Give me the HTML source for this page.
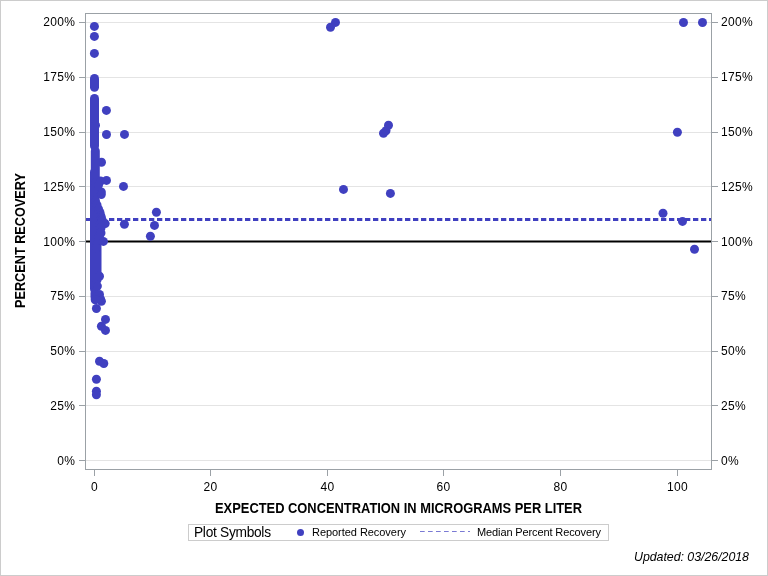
<!DOCTYPE html>
<html><head><meta charset="utf-8"><style>
html,body{margin:0;padding:0;background:#fff;}
svg{display:block;}
text{font-family:"Liberation Sans",sans-serif;fill:#000;}
svg{will-change:transform;}
.t{font-size:12px;}
.ls{letter-spacing:0.33px;}
.lb{font-size:14px;font-weight:bold;}
.lg1{font-size:13.75px;}
.lg2{font-size:11px;}
.ft{font-size:12.4px;font-style:italic;}
</style></head><body>
<svg width="768" height="576" viewBox="0 0 768 576">
<rect x="0.5" y="0.5" width="767" height="575" fill="#fff" stroke="#cccccc"/>
<line x1="86" x2="711" y1="22.5" y2="22.5" stroke="#e4e4e4"/>
<line x1="86" x2="711" y1="77.5" y2="77.5" stroke="#e4e4e4"/>
<line x1="86" x2="711" y1="132.5" y2="132.5" stroke="#e4e4e4"/>
<line x1="86" x2="711" y1="186.5" y2="186.5" stroke="#e4e4e4"/>
<line x1="86" x2="711" y1="296.5" y2="296.5" stroke="#e4e4e4"/>
<line x1="86" x2="711" y1="351.5" y2="351.5" stroke="#e4e4e4"/>
<line x1="86" x2="711" y1="405.5" y2="405.5" stroke="#e4e4e4"/>
<line x1="86" x2="711" y1="460.5" y2="460.5" stroke="#e4e4e4"/>
<rect x="86" y="240.5" width="625" height="2" fill="#000"/>
<line x1="86" x2="711" y1="219.5" y2="219.5" stroke="#4040c0" stroke-width="3" stroke-dasharray="5.3 2.7" stroke-dashoffset="1"/>
<line x1="94.5" x2="94.5" y1="78.4" y2="87.3" stroke="#4040c0" stroke-width="9" stroke-linecap="round"/>
<line x1="94.5" x2="94.5" y1="98.5" y2="146" stroke="#4040c0" stroke-width="9" stroke-linecap="round"/>
<line x1="95.3" x2="95.3" y1="151" y2="177" stroke="#4040c0" stroke-width="9" stroke-linecap="round"/>
<line x1="94.5" x2="94.5" y1="172" y2="289" stroke="#4040c0" stroke-width="9" stroke-linecap="round"/>
<line x1="95.0" x2="95.0" y1="293" y2="297" stroke="#4040c0" stroke-width="9" stroke-linecap="round"/>
<line x1="97" x2="97" y1="245" y2="280" stroke="#4040c0" stroke-width="9" stroke-linecap="round"/>
<circle cx="94.4" cy="26.4" r="4.5" fill="#4040c0"/>
<circle cx="94.4" cy="36.4" r="4.5" fill="#4040c0"/>
<circle cx="94.4" cy="53.4" r="4.5" fill="#4040c0"/>
<circle cx="106.4" cy="110.4" r="4.5" fill="#4040c0"/>
<circle cx="106.5" cy="134.5" r="4.5" fill="#4040c0"/>
<circle cx="101.5" cy="162.3" r="4.5" fill="#4040c0"/>
<circle cx="106.5" cy="180.4" r="4.5" fill="#4040c0"/>
<circle cx="101.3" cy="192" r="4.5" fill="#4040c0"/>
<circle cx="101.3" cy="194.5" r="4.5" fill="#4040c0"/>
<circle cx="96" cy="183" r="4.5" fill="#4040c0"/>
<circle cx="100.5" cy="181" r="4.5" fill="#4040c0"/>
<circle cx="98.5" cy="185" r="4.5" fill="#4040c0"/>
<circle cx="95.5" cy="201" r="4.5" fill="#4040c0"/>
<circle cx="97" cy="205" r="4.5" fill="#4040c0"/>
<circle cx="98.5" cy="209" r="4.5" fill="#4040c0"/>
<circle cx="100" cy="212.5" r="4.5" fill="#4040c0"/>
<circle cx="100.8" cy="215.6" r="4.5" fill="#4040c0"/>
<circle cx="101.5" cy="218" r="4.5" fill="#4040c0"/>
<circle cx="102" cy="221" r="4.5" fill="#4040c0"/>
<circle cx="105.2" cy="223.6" r="4.5" fill="#4040c0"/>
<circle cx="100" cy="225" r="4.5" fill="#4040c0"/>
<circle cx="101" cy="228" r="4.5" fill="#4040c0"/>
<circle cx="99" cy="237" r="4.5" fill="#4040c0"/>
<circle cx="101" cy="233" r="4.5" fill="#4040c0"/>
<circle cx="103.4" cy="241.4" r="4.5" fill="#4040c0"/>
<circle cx="96.3" cy="248" r="4.5" fill="#4040c0"/>
<circle cx="95.5" cy="125.2" r="4.5" fill="#4040c0"/>
<circle cx="99.5" cy="276.3" r="4.5" fill="#4040c0"/>
<circle cx="97.4" cy="286.1" r="4.5" fill="#4040c0"/>
<circle cx="99.5" cy="294.5" r="4.5" fill="#4040c0"/>
<circle cx="100.5" cy="299" r="4.5" fill="#4040c0"/>
<circle cx="101.4" cy="301.25" r="4.5" fill="#4040c0"/>
<circle cx="95.2" cy="299.8" r="4.5" fill="#4040c0"/>
<circle cx="96.4" cy="308.5" r="4.5" fill="#4040c0"/>
<circle cx="105.5" cy="319.4" r="4.5" fill="#4040c0"/>
<circle cx="101.4" cy="326.2" r="4.5" fill="#4040c0"/>
<circle cx="105.5" cy="330.4" r="4.5" fill="#4040c0"/>
<circle cx="99.5" cy="361.3" r="4.5" fill="#4040c0"/>
<circle cx="103.8" cy="363.5" r="4.5" fill="#4040c0"/>
<circle cx="96.4" cy="379.3" r="4.5" fill="#4040c0"/>
<circle cx="96.4" cy="391.2" r="4.5" fill="#4040c0"/>
<circle cx="96.4" cy="394.7" r="4.5" fill="#4040c0"/>
<circle cx="124.5" cy="134.4" r="4.5" fill="#4040c0"/>
<circle cx="123.5" cy="186.4" r="4.5" fill="#4040c0"/>
<circle cx="124.4" cy="224.3" r="4.5" fill="#4040c0"/>
<circle cx="156.4" cy="212.3" r="4.5" fill="#4040c0"/>
<circle cx="154.5" cy="225.4" r="4.5" fill="#4040c0"/>
<circle cx="150.4" cy="236.3" r="4.5" fill="#4040c0"/>
<circle cx="335.5" cy="22.4" r="4.5" fill="#4040c0"/>
<circle cx="330.5" cy="27.3" r="4.5" fill="#4040c0"/>
<circle cx="383.5" cy="133.3" r="4.5" fill="#4040c0"/>
<circle cx="386" cy="130.8" r="4.5" fill="#4040c0"/>
<circle cx="388.5" cy="125.2" r="4.5" fill="#4040c0"/>
<circle cx="343.5" cy="189.4" r="4.5" fill="#4040c0"/>
<circle cx="390.4" cy="193.4" r="4.5" fill="#4040c0"/>
<circle cx="683.5" cy="22.5" r="4.5" fill="#4040c0"/>
<circle cx="702.5" cy="22.5" r="4.5" fill="#4040c0"/>
<circle cx="677.4" cy="132.3" r="4.5" fill="#4040c0"/>
<circle cx="663" cy="213.3" r="4.5" fill="#4040c0"/>
<circle cx="682.5" cy="221.4" r="4.5" fill="#4040c0"/>
<circle cx="694.5" cy="249.3" r="4.5" fill="#4040c0"/>
<rect x="85.5" y="13.5" width="626" height="456" fill="none" stroke="#9ba1a6"/>
<line x1="79" x2="85" y1="22.5" y2="22.5" stroke="#9ba1a6"/>
<line x1="712" x2="718" y1="22.5" y2="22.5" stroke="#9ba1a6"/>
<line x1="79" x2="85" y1="77.5" y2="77.5" stroke="#9ba1a6"/>
<line x1="712" x2="718" y1="77.5" y2="77.5" stroke="#9ba1a6"/>
<line x1="79" x2="85" y1="132.5" y2="132.5" stroke="#9ba1a6"/>
<line x1="712" x2="718" y1="132.5" y2="132.5" stroke="#9ba1a6"/>
<line x1="79" x2="85" y1="186.5" y2="186.5" stroke="#9ba1a6"/>
<line x1="712" x2="718" y1="186.5" y2="186.5" stroke="#9ba1a6"/>
<line x1="79" x2="85" y1="241.5" y2="241.5" stroke="#9ba1a6"/>
<line x1="712" x2="718" y1="241.5" y2="241.5" stroke="#9ba1a6"/>
<line x1="79" x2="85" y1="296.5" y2="296.5" stroke="#9ba1a6"/>
<line x1="712" x2="718" y1="296.5" y2="296.5" stroke="#9ba1a6"/>
<line x1="79" x2="85" y1="351.5" y2="351.5" stroke="#9ba1a6"/>
<line x1="712" x2="718" y1="351.5" y2="351.5" stroke="#9ba1a6"/>
<line x1="79" x2="85" y1="405.5" y2="405.5" stroke="#9ba1a6"/>
<line x1="712" x2="718" y1="405.5" y2="405.5" stroke="#9ba1a6"/>
<line x1="79" x2="85" y1="460.5" y2="460.5" stroke="#9ba1a6"/>
<line x1="712" x2="718" y1="460.5" y2="460.5" stroke="#9ba1a6"/>
<line x1="94.5" x2="94.5" y1="470" y2="476" stroke="#9ba1a6"/>
<line x1="210.5" x2="210.5" y1="470" y2="476" stroke="#9ba1a6"/>
<line x1="327.5" x2="327.5" y1="470" y2="476" stroke="#9ba1a6"/>
<line x1="443.5" x2="443.5" y1="470" y2="476" stroke="#9ba1a6"/>
<line x1="560.5" x2="560.5" y1="470" y2="476" stroke="#9ba1a6"/>
<line x1="677.5" x2="677.5" y1="470" y2="476" stroke="#9ba1a6"/>
<text x="75.3" y="25.5" text-anchor="end" class="t ls">200%</text>
<text x="721" y="25.5" class="t ls">200%</text>
<text x="75.3" y="80.5" text-anchor="end" class="t ls">175%</text>
<text x="721" y="80.5" class="t ls">175%</text>
<text x="75.3" y="135.5" text-anchor="end" class="t ls">150%</text>
<text x="721" y="135.5" class="t ls">150%</text>
<text x="75.3" y="190.5" text-anchor="end" class="t ls">125%</text>
<text x="721" y="190.5" class="t ls">125%</text>
<text x="75.3" y="245.5" text-anchor="end" class="t ls">100%</text>
<text x="721" y="245.5" class="t ls">100%</text>
<text x="75.3" y="299.5" text-anchor="end" class="t ls">75%</text>
<text x="721" y="299.5" class="t ls">75%</text>
<text x="75.3" y="354.5" text-anchor="end" class="t ls">50%</text>
<text x="721" y="354.5" class="t ls">50%</text>
<text x="75.3" y="409.5" text-anchor="end" class="t ls">25%</text>
<text x="721" y="409.5" class="t ls">25%</text>
<text x="75.3" y="464.5" text-anchor="end" class="t ls">0%</text>
<text x="721" y="464.5" class="t ls">0%</text>
<text x="94.4" y="491" text-anchor="middle" class="t ls">0</text>
<text x="210.4" y="491" text-anchor="middle" class="t ls">20</text>
<text x="327.4" y="491" text-anchor="middle" class="t ls">40</text>
<text x="443.4" y="491" text-anchor="middle" class="t ls">60</text>
<text x="560.4" y="491" text-anchor="middle" class="t ls">80</text>
<text x="677.4" y="491" text-anchor="middle" class="t ls">100</text>
<text x="215" y="513" class="lb" textLength="367" lengthAdjust="spacingAndGlyphs">EXPECTED CONCENTRATION IN MICROGRAMS PER LITER</text>
<text transform="translate(25,308) rotate(-90)" class="lb" textLength="135" lengthAdjust="spacingAndGlyphs">PERCENT RECOVERY</text>
<rect x="188.5" y="524.5" width="420" height="16" fill="none" stroke="#cccccc"/>
<text x="194" y="537" class="lg1" textLength="77">Plot Symbols</text>
<circle cx="300.5" cy="532.5" r="3.5" fill="#4040c0"/>
<text x="312" y="536" class="lg2" textLength="94">Reported Recovery</text>
<line x1="420" x2="470" y1="531.5" y2="531.5" stroke="#7a7ad4" stroke-dasharray="4.7 3.3"/>
<text x="477" y="536" class="lg2" textLength="124">Median Percent Recovery</text>
<text x="634" y="561" class="ft" textLength="115">Updated: 03/26/2018</text>
</svg>
</body></html>
